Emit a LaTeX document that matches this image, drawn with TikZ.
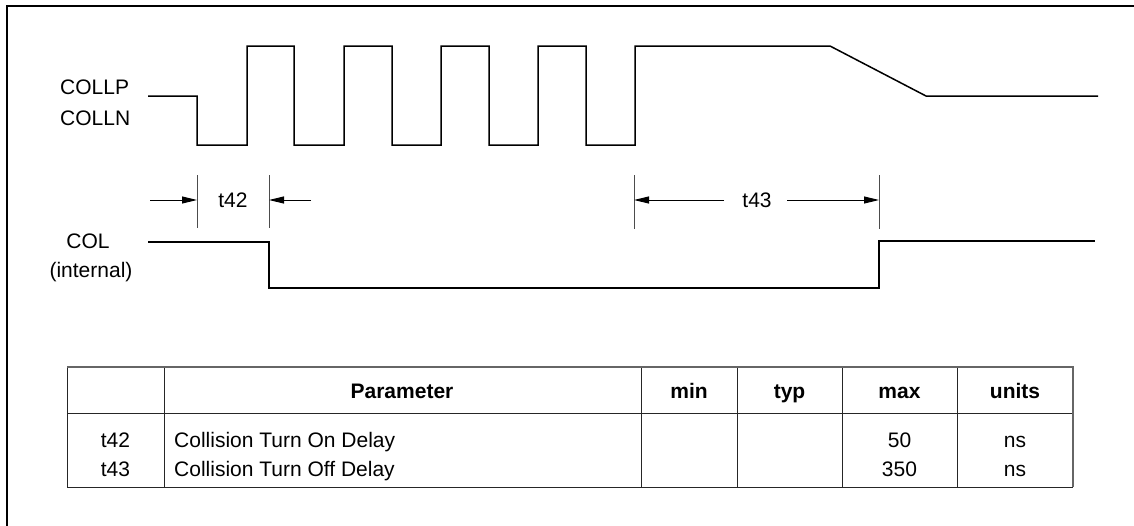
\documentclass[tikz,border=0pt]{standalone}
\usepackage{fontspec}
\setmainfont{Liberation Sans}
\usetikzlibrary{arrows.meta}
\begin{document}
\begin{tikzpicture}[x=1pt,y=-1pt,
  wave/.style={line width=1.5pt, line join=miter},
  tick/.style={line width=1pt, draw=black!70},
  dimarrow/.style={line width=1pt, -{Triangle[length=15pt,width=7pt]}},
  lbl/.style={font=\fontsize{21}{24}\selectfont, inner sep=0pt},
  hdr/.style={font=\fontsize{21}{24}\selectfont\bfseries, inner sep=0pt, anchor=base},
  tline/.style={line width=1pt, draw=black!85},
  tbox/.style={line width=1.4pt, draw=black!60}]
\useasboundingbox (0,0) rectangle (1134,525);
% frame (only left and top visible)
\draw[line width=2.5pt] (7,540) -- (7,6) -- (1150,6);

% labels
\node[lbl, anchor=base west] (collp) at (60,94) {COLLP};
\node[lbl, anchor=base west] (colln) at (60,125) {COLLN};
\node[lbl, anchor=base] (col) at (88,248.5) {COL};
\node[lbl, anchor=base] (internal) at (91,277) {(internal)};

% COLLP/COLLN waveform
\draw[wave] (148,96) -- (197,96) -- (197,145) -- (247,145) -- (247,46) -- (294,46)
  -- (294,145) -- (344,145) -- (344,46) -- (392,46) -- (392,145) -- (441,145)
  -- (441,46) -- (489,46) -- (489,145) -- (538,145) -- (538,46) -- (586,46)
  -- (586,145) -- (635,145) -- (635,46) -- (830,46) -- (926,96) -- (1098,96);

% COL waveform
\draw[wave] (148,242) -- (269,242) -- (269,288) -- (879,288) -- (879,241) -- (1095,241);

% timing ticks
\coordinate (a1) at (197,175); \coordinate (a2) at (197,228);
\coordinate (b1) at (269,175); \coordinate (b2) at (269,228);
\coordinate (c1) at (634,175); \coordinate (c2) at (634,229);
\coordinate (d1) at (879,175); \coordinate (d2) at (879,229);
\draw[tick] (a1) -- (a2);
\draw[tick] (b1) -- (b2);
\draw[tick] (c1) -- (c2);
\draw[tick] (d1) -- (d2);

% dimension arrows
\coordinate (a) at (197,200); \coordinate (b) at (269,200);
\coordinate (c) at (634,200); \coordinate (d) at (879,200);
\coordinate (as) at (150,200); \coordinate (bs) at (311,200);
\coordinate (cs) at (724,200); \coordinate (ds) at (787,200);
\node[lbl, anchor=base] (t42) at (233,207.5) {t42};
\node[lbl, anchor=base] (t43) at (757,207.5) {t43};
\draw[dimarrow] (as) -- (a);
\draw[dimarrow] (bs) -- (b);
\draw[dimarrow] (cs) -- (c);
\draw[dimarrow] (ds) -- (d);

% table
\draw[tline] (67,413) -- (1073,413);
\foreach \x in {164,641,737,842,957} \draw[tline] (\x,367) -- (\x,487);
\draw[tline] (67,367) -- (67,487) -- (1073,487);
\draw[tbox] (67,367) -- (1073,367) -- (1073,487);

\node[hdr] (hpar) at (402,398) {Parameter};
\node[hdr] (hmin) at (689,398) {min};
\node[hdr] (htyp) at (789.5,398) {typ};
\node[hdr] (hmax) at (899.5,398) {max};
\node[hdr] (hunits) at (1015,398) {units};

\node[lbl, anchor=base] (r1a) at (115.5,447) {t42};
\node[lbl, anchor=base] (r2a) at (115.5,476) {t43};
\node[lbl, anchor=base west] (r1b) at (174,447) {Collision Turn On Delay};
\node[lbl, anchor=base west] (r2b) at (174,476) {Collision Turn Off Delay};
\node[lbl, anchor=base] (r1c) at (899.5,447) {50};
\node[lbl, anchor=base] (r2c) at (899.5,476) {350};
\node[lbl, anchor=base] (r1d) at (1015,447) {ns};
\node[lbl, anchor=base] (r2d) at (1015,476) {ns};
\end{tikzpicture}
\end{document}
